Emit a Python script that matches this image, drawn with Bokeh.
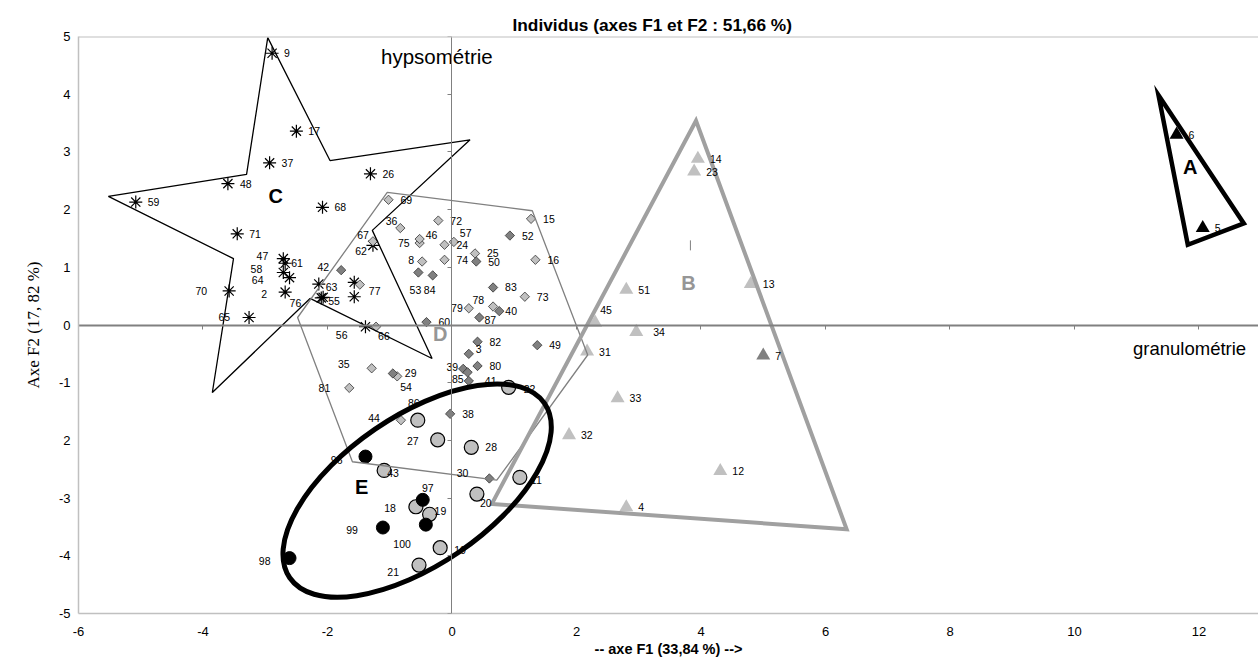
import math
from bokeh.plotting import figure
from bokeh.models import ColumnDataSource, Range1d, LinearAxis, FixedTicker, Span, CustomJSTickFormatter
from bokeh.core.properties import value
from bokeh.embed import file_html
from bokeh.resources import INLINE

# ---------------- data ----------------
TITLE = "Individus (axes F1 et F2 : 51,66 %)"
X_LABEL = "-- axe F1 (33,84 %) -->"
Y_LABEL = "Axe F2 (17, 82 %)"
X_TICKS = [-6, -4, -2, 0, 2, 4, 6, 8, 10, 12]
X_TICK_TEXT = ["-6", "-4", "-2", "0", "2", "4", "6", "8", "10", "12"]
Y_TICKS = [-5, -4, -3, -2, -1, 0, 1, 2, 3, 4, 5]
Y_TICK_TEXT = ["-5", "-4", "-3", "2", "-1", "0", "1", "2", "3", "4", "5"]

# group A : black triangles
A_LABELS = ["6", "5"]
A_X = [11.64, 12.06]
A_Y = [3.30, 1.68]

# group B : grey triangles (light) and one darker
BL_LABELS = ["14", "23", "13", "51", "45", "34", "31", "33", "32", "12", "4"]
BL_X = [3.95, 3.89, 4.80, 2.80, 2.30, 2.96, 2.17, 2.66, 1.88, 4.31, 2.80]
BL_Y = [2.88, 2.66, 0.71, 0.61, 0.04, -0.12, -0.46, -1.27, -1.91, -2.53, -3.16]
BK_LABELS = ["7"]
BK_X = [5.00]
BK_Y = [-0.53]
B_TICK_X = [3.83]
B_TICK_Y = [1.38]

# group C : asterisks
C_LABELS = ["9", "17", "37", "48", "59", "26", "68", "71", "70", "65", "47", "61",
            "58", "64", "2", "63", "55", "76", "56", "62", "", ""]
C_X = [-2.89, -2.50, -2.93, -3.60, -5.08, -1.31, -2.08, -3.45, -3.58, -3.26, -2.71, -2.68,
       -2.71, -2.61, -2.68, -2.14, -2.07, -2.10, -1.39, -1.27, -1.57, -1.57]
C_Y = [4.71, 3.36, 2.81, 2.45, 2.13, 2.62, 2.04, 1.58, 0.59, 0.13, 1.15, 1.07,
       0.91, 0.82, 0.57, 0.71, 0.48, 0.47, -0.03, 1.38, 0.74, 0.49]

# group D : diamonds (light and dark)
DL_LABELS = ["69", "36", "75", "46", "8", "35", "54", "81", "77", "72", "57", "24",
             "74", "25", "15", "16", "73", "78", "79", "44", "67", "66"]
DL_X = [-1.02, -0.83, -0.52, -0.52, -0.48, -1.29, -0.88, -1.65, -1.48, -0.22, 0.03, -0.12,
        -0.12, 0.37, 1.27, 1.34, 1.17, 0.66, 0.27, -0.82, -1.27, -1.22]
DL_Y = [2.17, 1.68, 1.42, 1.49, 1.10, -0.75, -0.89, -1.09, 0.70, 1.81, 1.44, 1.39,
        1.13, 1.24, 1.84, 1.13, 0.49, 0.32, 0.29, -1.65, 1.45, -0.03]
DK_LABELS = ["53", "84", "60", "29", "42", "50", "52", "83", "40", "87", "82", "3",
             "49", "80", "39", "85", "41", "38", "30"]
DK_X = [-0.54, -0.31, -0.41, -0.95, -1.78, 0.39, 0.93, 0.66, 0.76, 0.44, 0.41, 0.27,
        1.37, 0.41, 0.18, 0.25, 0.27, -0.03, 0.60]
DK_Y = [0.91, 0.86, 0.05, -0.84, 0.95, 1.10, 1.55, 0.65, 0.24, 0.13, -0.29, -0.50,
        -0.35, -0.71, -0.76, -0.82, -0.97, -1.54, -2.66]

# group E : circles (light and black)
EL_LABELS = ["86", "27", "28", "43", "11", "22", "18", "19", "20", "10", "21"]
EL_X = [-0.55, -0.23, 0.31, -1.09, 1.09, 0.91, -0.58, -0.36, 0.40, -0.19, -0.53]
EL_Y = [-1.65, -1.99, -2.12, -2.52, -2.64, -1.08, -3.15, -3.28, -2.93, -3.86, -4.16]
EK_LABELS = ["96", "97", "100", "99", "98"]
EK_X = [-1.39, -0.47, -0.42, -1.11, -2.61]
EK_Y = [-2.28, -3.03, -3.46, -3.51, -4.04]

# group outlines
STAR_C_X = [-2.96, -1.96, 0.29, -1.28, -0.32, -2.28, -3.85, -3.51, -5.52, -3.30]
STAR_C_Y = [4.98, 2.85, 3.21, 1.64, -0.58, 0.46, -1.17, 1.15, 2.23, 2.61]
POLY_D_X = [-1.04, 1.29, 2.18, 0.72, -1.60, -2.48]
POLY_D_Y = [2.30, 1.98, -0.52, -2.69, -2.37, 0.13]
TRI_B_X = [3.92, 6.34, 0.64]
TRI_B_Y = [3.54, -3.54, -3.10]
TRI_A_X = [11.35, 12.72, 11.82]
TRI_A_Y = [3.98, 1.76, 1.39]
ELL_E_X = [-0.56]
ELL_E_Y = [-2.87]
ELL_E_W = [4.96]
ELL_E_H = [2.58]
ELL_E_ANGLE = [0.60]

GROUP_NAMES = ["A", "B", "C", "D", "E"]
GROUP_X = [11.86, 3.80, -2.83, -0.19, -1.45]
GROUP_Y = [2.73, 0.73, 2.24, -0.16, -2.80]
GROUP_COLORS = ["#000000", "#969696", "#000000", "#969696", "#000000"]

AXIS_WORDS = ["hypsométrie", "granulométrie"]
AXIS_WORDS_X = [-1.14, 10.94]
AXIS_WORDS_Y = [4.66, -0.40]
AXIS_WORDS_SIZE = ["20.5px", "18.5px"]

# label placement (style): align, dx px, dy px
LABEL_STYLE = {
    "70": ("right", -22, 0), "65": ("right", -19, 0), "47": ("right", -15, -3),
    "61": ("left", 6, 0), "58": ("right", -21, -3), "64": ("right", -26, 2),
    "2": ("right", -18, 2), "63": ("left", 7, 3), "55": ("left", 5, 4),
    "76": ("right", -20, 5), "56": ("right", -18, 8), "62": ("right", -6, 6),
    "67": ("right", -4, -6), "42": ("right", -12, -3), "77": ("left", 9, 6),
    "66": ("left", 2, 9), "36": ("right", -3, -7), "75": ("right", -10, 0),
    "46": ("left", 6, -4), "8": ("right", -8, -2), "53": ("center", -3, 18),
    "84": ("center", -3, 15), "35": ("right", -22, -4), "54": ("left", 3, 11),
    "81": ("right", -19, 0), "57": ("left", 6, -9), "78": ("right", -9, -7),
    "79": ("right", -6, 0), "40": ("left", 6, 0), "87": ("left", 5, 3),
    "3": ("left", 7, -5), "39": ("right", -5, -2), "85": ("right", -4, 7),
    "41": ("left", 16, 0), "44": ("right", -21, -2), "30": ("right", -21, -5),
    "86": ("center", -4, -17), "27": ("right", -19, 1), "96": ("right", -23, 3),
    "43": ("left", 3, 3), "11": ("left", 11, 3), "22": ("left", 15, 2),
    "97": ("center", 5, -12), "18": ("right", -20, 1), "19": ("left", 5, -3),
    "20": ("left", 3, 9), "100": ("right", -15, 19), "99": ("right", -25, 2),
    "10": ("left", 14, 2), "21": ("right", -20, 7), "98": ("right", -19, 3),
    "45": ("left", 5, -13), "34": ("left", 17, 0),
}

FONT = "Liberation Sans"

p = figure(width=1258, height=660, x_range=Range1d(-6, 12.956), y_range=Range1d(-5, 5),
           output_backend="svg", toolbar_location=None,
           min_border_left=78, min_border_right=0, min_border_top=36, min_border_bottom=47,
           x_axis_label=X_LABEL, y_axis_label=Y_LABEL, outline_line_color=None,
           background_fill_color="white", border_fill_color="white")
p.xgrid.visible = False
p.ygrid.visible = False

p.title.text = TITLE
p.title.text_font = FONT
p.title.text_font_size = "17.3px"
p.title.text_font_style = "bold"
p.title.text_color = "black"
p.title.align = "left"
p.title.offset = 434
p.title.standoff = 4

for ax, ticks, texts in ((p.xaxis[0], X_TICKS, X_TICK_TEXT), (p.yaxis[0], Y_TICKS, Y_TICK_TEXT)):
    ax.ticker = FixedTicker(ticks=ticks)
    ax.major_label_overrides = {t: s for t, s in zip(ticks, texts)}
    ax.major_tick_out = 0
    ax.major_tick_in = 0
    ax.minor_tick_out = 0
    ax.minor_tick_in = 0
    ax.axis_line_color = "#c0c0c0"
    ax.axis_line_width = 1.5
    ax.major_label_text_font = FONT
    ax.major_label_text_font_size = "13px"
    ax.major_label_text_color = "#000000"
    ax.axis_label_text_color = "#000000"
p.yaxis[0].major_label_standoff = 8
p.xaxis[0].major_label_standoff = 13
p.xaxis[0].axis_label_text_font = FONT
p.xaxis[0].axis_label_text_font_style = "bold"
p.xaxis[0].axis_label_text_font_size = "14.5px"
p.xaxis[0].axis_label_standoff = 2
p.yaxis[0].axis_label_text_font = "Liberation Serif"
p.yaxis[0].axis_label_text_font_style = "normal"
p.yaxis[0].axis_label_text_font_size = "17px"
p.yaxis[0].axis_label_standoff = 13

empty = CustomJSTickFormatter(code="return ''")
x0 = LinearAxis(fixed_location=0, ticker=FixedTicker(ticks=X_TICKS), formatter=empty,
                axis_line_color="#808080", axis_line_width=2, major_tick_out=4, major_tick_in=0,
                major_tick_line_color="#808080", minor_tick_out=0, minor_tick_in=0)
p.add_layout(x0, "below")
y0 = LinearAxis(fixed_location=0, ticker=FixedTicker(ticks=Y_TICKS), formatter=empty,
                axis_line_color="#808080", axis_line_width=1, major_tick_out=4, major_tick_in=0,
                major_tick_line_color="#808080", minor_tick_out=0, minor_tick_in=0)
p.add_layout(y0, "left")
p.add_layout(Span(location=Y_TICKS[-1], dimension="width", line_color="#c0c0c0", line_width=2))

# markers
p.scatter(C_X, C_Y, marker="asterisk", size=13, line_color="black", line_width=1.2)
p.scatter(DL_X, DL_Y, marker="square", angle=math.pi / 4, size=6.6,
          fill_color="#c0c0c0", line_color="#333333", line_width=0.8)
p.scatter(DK_X, DK_Y, marker="square", angle=math.pi / 4, size=6.6,
          fill_color="#808080", line_color="#333333", line_width=0.8)
p.scatter(EL_X, EL_Y, marker="circle", size=14, fill_color="#c0c0c0", line_color="black", line_width=1.2)
p.scatter(EK_X, EK_Y, marker="circle", size=13, fill_color="black", line_color="black")
p.scatter(BL_X, BL_Y, marker="triangle", size=14, fill_color="#c0c0c0", line_color=None)
p.scatter(BK_X, BK_Y, marker="triangle", size=14, fill_color="#808080", line_color=None)
p.scatter(A_X, A_Y, marker="triangle", size=14, fill_color="black", line_color=None)
p.scatter(B_TICK_X, B_TICK_Y, marker="dash", angle=math.pi / 2, size=10, line_color="#808080", line_width=1)

# outlines
p.patch(STAR_C_X, STAR_C_Y, fill_color=None, line_color="black", line_width=1.3)
p.patch(POLY_D_X, POLY_D_Y, fill_color=None, line_color="#808080", line_width=1.3)
p.patch(TRI_B_X, TRI_B_Y, fill_color=None, line_color="#a0a0a0", line_width=4, line_join="miter")
p.patch(TRI_A_X, TRI_A_Y, fill_color=None, line_color="black", line_width=4.5, line_join="miter")
p.ellipse(ELL_E_X, ELL_E_Y, width=ELL_E_W, height=ELL_E_H, angle=ELL_E_ANGLE,
          fill_color=None, line_color="black", line_width=5)

# point labels
rows = {"left": dict(x=[], y=[], t=[], dx=[], dy=[]),
        "right": dict(x=[], y=[], t=[], dx=[], dy=[]),
        "center": dict(x=[], y=[], t=[], dx=[], dy=[])}
series = [(A_LABELS, A_X, A_Y, 12), (BL_LABELS, BL_X, BL_Y, 12), (BK_LABELS, BK_X, BK_Y, 12),
          (C_LABELS, C_X, C_Y, 12), (DL_LABELS, DL_X, DL_Y, 12), (DK_LABELS, DK_X, DK_Y, 12),
          (EL_LABELS, EL_X, EL_Y, 14), (EK_LABELS, EK_X, EK_Y, 14)]
for labs, xs, ys, ddx in series:
    for lab, xv, yv in zip(labs, xs, ys):
        if not lab:
            continue
        al, dx, dy = LABEL_STYLE.get(lab, ("left", ddx, 0))
        r = rows[al]
        r["x"].append(xv); r["y"].append(yv); r["t"].append(lab)
        r["dx"].append(dx); r["dy"].append(dy)
for al, r in rows.items():
    src = ColumnDataSource(r)
    p.text(x="x", y="y", text="t", x_offset="dx", y_offset="dy", source=src,
           text_align=al, text_baseline="middle", text_font=value(FONT),
           text_font_size="10.5px", text_color="black")

# group letters
p.text(GROUP_X, GROUP_Y, text=GROUP_NAMES, text_color=GROUP_COLORS, text_align="center",
       text_baseline="middle", text_font=value(FONT), text_font_size="20px", text_font_style="bold")
# axis words
for w, wx, wy, ws in zip(AXIS_WORDS, AXIS_WORDS_X, AXIS_WORDS_Y, AXIS_WORDS_SIZE):
    p.text([wx], [wy], text=[w], text_align="left", text_baseline="alphabetic",
           text_font=value(FONT), text_font_size=ws, text_color="black")

open("out.html", "w").write(file_html(p, INLINE))
